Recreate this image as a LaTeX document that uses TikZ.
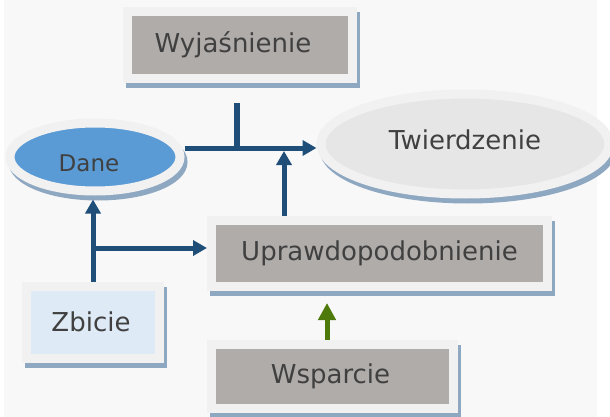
\documentclass[tikz,border=0pt]{standalone}
\usepackage{fontspec}
\setmainfont{DejaVu Sans}
\usetikzlibrary{arrows.meta,shapes.geometric}

\definecolor{bggray}{HTML}{F8F8F8}
\definecolor{framegray}{HTML}{F1F1F1}
\definecolor{shadowblue}{HTML}{8FA8C2}
\definecolor{boxgray}{HTML}{B0ACAA}
\definecolor{paleblue}{HTML}{DEEAF6}
\definecolor{danefill}{HTML}{5B9BD5}
\definecolor{claimfill}{HTML}{E6E6E6}
\definecolor{linkblue}{HTML}{1F4E79}
\definecolor{supportgreen}{HTML}{4E7A0C}
\definecolor{textgray}{HTML}{404040}

\tikzset{
    framed/.style={draw=framegray, line width=9pt, inner sep=0pt, text=textgray,
        font=\fontsize{26}{30}\selectfont,
        preaction={draw=shadowblue, fill=shadowblue, line width=9pt,
            transform canvas={xshift=3pt, yshift=-5pt}}},
    box/.style={framed, rectangle, fill=boxgray},
    oval/.style={framed, ellipse},
    link/.style={draw=linkblue, line width=5pt, -{Triangle[length=14pt, width=15pt]}},
}

\begin{document}
\begin{tikzpicture}[x=1pt, y=-1pt]
        \useasboundingbox (0,0) rectangle (610,417);
        \fill[bggray] (4,0) rectangle (597,417);

        \node[box, minimum width=225pt, minimum height=67pt] (Wy) at (240,45) {\hspace*{-14pt}Wyjaśnienie};
        \node[oval, fill=claimfill, minimum width=288pt, minimum height=100pt] (Tw) at (465,144) {\raisebox{4pt}[\height][\depth]{Twierdzenie}};
        \node[oval, fill=danefill, minimum width=170pt, minimum height=68pt, font=\fontsize{23}{27}\selectfont] (Da) at (95,157) {\hspace*{-12pt}\raisebox{-6pt}[\height][0pt]{Dane}};
        \node[box, minimum width=336pt, minimum height=66pt] (Up) at (379.5,253.5) {Uprawdopodobnienie};
        \node[box, fill=paleblue, minimum width=133pt, minimum height=72pt] (Zb) at (93,322) {\hspace*{-4pt}Zbicie};
        \node[box, minimum width=242pt, minimum height=64pt] (Ws) at (332.5,376) {\hspace*{-4pt}Wsparcie};

        \coordinate (stub) at (237,103);
        \coordinate (join) at (237,148);
        \coordinate (rise) at (284,151);
        \coordinate (fork) at (94,248);
        \coordinate (lift) at (327,303);

        \draw [link] (Da.east |- join) -- (Tw.west |- join);
        \draw [linkblue, line width=6pt] (stub) -- (join);
        \draw [link] (Up.north -| rise) -- (rise);
        \draw [link, shorten >=4pt] (Zb.north) -- (Zb.north |- Da.south);
        \draw [link] (fork) -- (fork -| Up.west);
        \draw [link, draw=supportgreen, -{Triangle[length=17pt, width=17pt]}] (Ws.north -| lift) -- (lift);
    \end{tikzpicture}
\end{document}
